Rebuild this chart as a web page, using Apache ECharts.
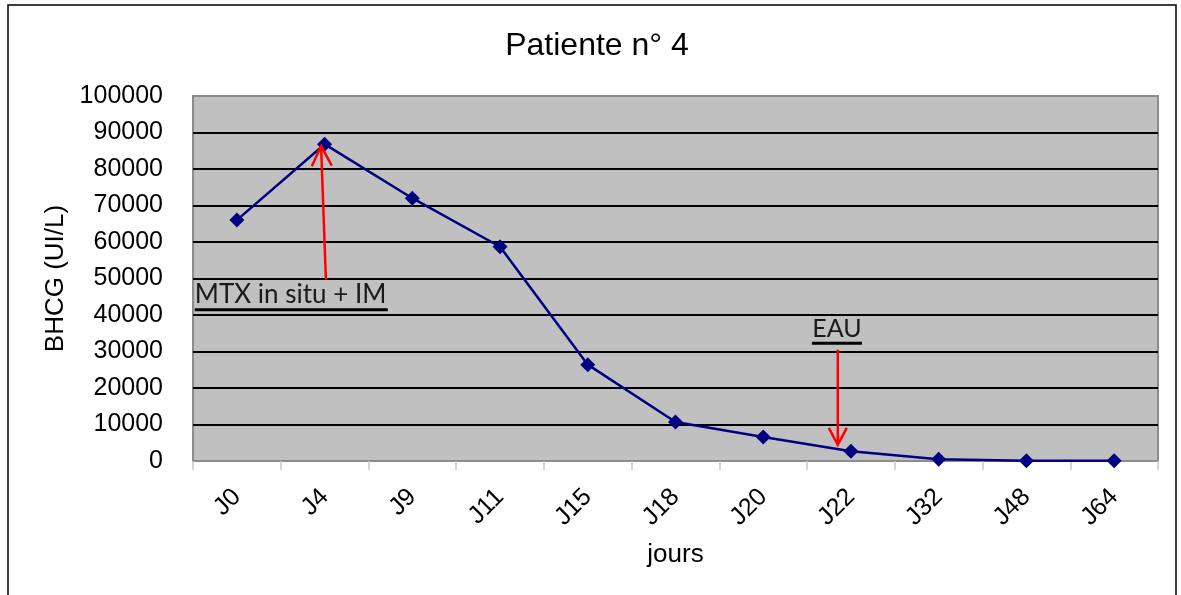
<!DOCTYPE html>
<html>
<head>
<meta charset="utf-8">
<script src="https://cdn.jsdelivr.net/npm/echarts@6/dist/echarts.min.js"></script>
<style>
html, body { margin: 0; padding: 0; background: #fff; }
#main { width: 1181px; height: 595px; }
</style>
</head>
<body>
<div id="main"></div>
<script>
// jours de suivi
var days = ['J0', 'J4', 'J9', 'J11', 'J15', 'J18', 'J20', 'J22', 'J32', 'J48', 'J64'];
// BHCG (UI/L)
var bhcg = [66000, 86800, 72000, 58700, 26400, 10700, 6600, 2700, 500, 100, 80];
var yTicks = [0, 10000, 20000, 30000, 40000, 50000, 60000, 70000, 80000, 90000, 100000];

// annotations : [index categorie (fractionnaire), valeur]
var mtxArrow = [[1.015, 49700], [0.96, 86300]];
var mtxText = 'MTX in situ + IM';
var mtxTextPos = [-0.48, 42000];
var eauArrow = [[6.85, 30500], [6.85, 4400]];
var eauText = 'EAU';
var eauTextPos = [6.84, 32800];

var gridColors = [];
for (var i = 0; i < yTicks.length; i++) {
	gridColors.push(i == 0 || i == yTicks.length - 1 ? '#8c8c8c' : '#000');
}

var myChart = echarts.init(document.getElementById('main'));
var option = {
	animation: false,
	backgroundColor: '#fff',
	title: {
		text: 'Patiente n° 4',
		left: 592,
		textAlign: 'center',
		top: 25,
		textStyle: {
			fontFamily: 'Liberation Sans',
			fontSize: 32,
			fontWeight: 'normal',
			color: '#000'
		}
	},
	grid: {
		left: 193,
		right: 23,
		top: 96,
		bottom: 134,
		show: true,
		backgroundColor: '#c0c0c0',
		borderColor: '#8c8c8c',
		borderWidth: 2
	},
	xAxis: {
		type: 'category',
		data: days,
		boundaryGap: true,
		name: 'jours',
		nameLocation: 'middle',
		nameGap: 81,
		nameTextStyle: { fontFamily: 'Liberation Sans', fontSize: 26, color: '#000' },
		axisLine: { show: true, lineStyle: { color: '#8c8c8c', width: 2 } },
		axisTick: { show: true, interval: 0, length: 9, lineStyle: { color: '#c8c8c8', width: 1.5 } },
		axisLabel: {
			interval: 0,
			rotate: 45,
			margin: 32,
			fontFamily: 'Liberation Sans',
			fontSize: 25,
			color: '#000'
		},
		splitLine: { show: false }
	},
	yAxis: {
		type: 'value',
		min: 0,
		max: 100000,
		interval: 10000,
		name: 'BHCG (UI/L)',
		nameLocation: 'middle',
		nameRotate: 90,
		nameGap: 124,
		nameTextStyle: { fontFamily: 'Liberation Sans', fontSize: 26, color: '#000' },
		axisLine: { show: false },
		axisTick: { show: false },
		axisLabel: {
			margin: 30,
			fontFamily: 'Liberation Sans',
			fontSize: 25,
			color: '#000',
			formatter: function(v) { return String(v); }
		},
		splitLine: { show: true, lineStyle: { color: gridColors, width: 1.8 } }
	},
	series: [{
		type: 'line',
		data: bhcg,
		symbol: 'diamond',
		symbolSize: 15,
		lineStyle: { color: '#000080', width: 2.5 },
		itemStyle: { color: '#000080' },
		z: 5
	}]
};
myChart.setOption(option);

// position en pixels a partir d'un index fractionnaire
function at(p) {
	var a = myChart.convertToPixel({ seriesIndex: 0 }, [0, p[1]]);
	var b = myChart.convertToPixel({ seriesIndex: 0 }, [1, p[1]]);
	return [a[0] + (b[0] - a[0]) * p[0], a[1]];
}

function arrow(pts, len, half) {
	var t = at(pts[0]), h = at(pts[1]);
	var dx = h[0] - t[0], dy = h[1] - t[1];
	var d = Math.sqrt(dx * dx + dy * dy);
	var ux = dx / d, uy = dy / d;
	var bx = h[0] - ux * len, by = h[1] - uy * len;
	return [{
		type: 'line',
		shape: { x1: t[0], y1: t[1], x2: h[0], y2: h[1] },
		style: { stroke: '#ff0000', lineWidth: 2.5 },
		z: 10
	}, {
		type: 'polyline',
		shape: { points: [[bx - uy * half, by + ux * half], h, [bx + uy * half, by - ux * half]] },
		style: { stroke: '#ff0000', lineWidth: 2.5, fill: null },
		z: 10
	}];
}

function label(text, p, align, size) {
	var c = at(p);
	return {
		type: 'text',
		x: c[0],
		y: c[1],
		style: {
			text: text,
			fontFamily: 'Lato',
			fontSize: size,
			fill: '#1a1a1a',
			textAlign: align,
			textVerticalAlign: 'bottom'
		},
		z: 10
	};
}

function underline(x1, x2, y) {
	return {
		type: 'line',
		shape: { x1: x1, y1: y, x2: x2, y2: y },
		style: { stroke: '#000', lineWidth: 3 },
		z: 10
	};
}

var mp = at(mtxTextPos), ep = at(eauTextPos);

var elems = [{
	type: 'rect',
	shape: { x: 8, y: 5, width: 1168, height: 640 },
	style: { fill: null, stroke: '#000', lineWidth: 1.5 },
	silent: true
}];
elems = elems.concat(arrow(mtxArrow, 20, 10));
elems = elems.concat(arrow(eauArrow, 17, 9));
elems.push(label(mtxText, mtxTextPos, 'left', 26));
elems.push(label(eauText, eauTextPos, 'center', 25));
elems.push(underline(mp[0], mp[0] + 193, mp[1] + 2));
elems.push(underline(ep[0] - 25, ep[0] + 25, ep[1] + 2));

myChart.setOption({ graphic: elems });
</script>
</body>
</html>
